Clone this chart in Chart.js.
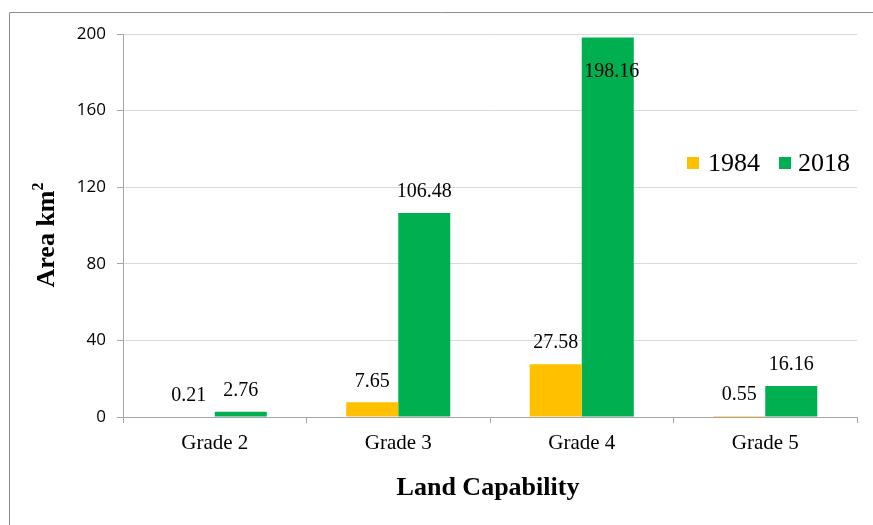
<!DOCTYPE html>
<html>
<head>
<meta charset="utf-8">
<script src="https://cdn.jsdelivr.net/npm/chart.js@4.4.1/dist/chart.umd.min.js"></script>
<style>
  html, body { margin: 0; padding: 0; background: #ffffff; }
  #wrap { position: relative; width: 873px; height: 525px; }
</style>
</head>
<body>
<div id="wrap"><canvas id="chart" width="873" height="525"></canvas></div>
<script>
// Land capability area by grade (km²)
const categories = ['Grade 2', 'Grade 3', 'Grade 4', 'Grade 5'];
const seriesNames = ['1984', '2018'];
const values1984 = [0.21, 7.65, 27.58, 0.55];
const values2018 = [2.76, 106.48, 198.16, 16.16];
const yTicks = [0, 40, 80, 120, 160, 200];

const colors = ['#FFC000', '#00B050'];
const serif = '"Liberation Serif", "Times New Roman", serif';
const sans = '"Open Sans", "Liberation Sans", sans-serif';

// Outer frame, axis titles, value labels and legend
const decorations = {
  id: 'decorations',
  beforeDraw(chart) {
    const ctx = chart.ctx;
    ctx.save();
    ctx.strokeStyle = '#8C8C8C';
    ctx.lineWidth = 1;
    ctx.beginPath();
    ctx.moveTo(9.5, 525);
    ctx.lineTo(9.5, 12.5);
    ctx.lineTo(873, 12.5);
    ctx.stroke();
    ctx.restore();
  },
  afterDatasetsDraw(chart) {
    const ctx = chart.ctx;
    const area = chart.chartArea;
    ctx.save();
    ctx.fillStyle = '#000';
    ctx.textAlign = 'center';
    ctx.textBaseline = 'middle';
    ctx.font = '20px ' + serif;
    chart.data.datasets.forEach((ds, i) => {
      const meta = chart.getDatasetMeta(i);
      meta.data.forEach((bar, j) => {
        const label = ds.data[j].toFixed(2);
        let y = bar.y - 21;
        let x = bar.x;
        if (y < area.top + 10) { y = bar.y + 34; x = bar.x + 4; }
        ctx.fillText(label, x, y);
      });
    });

    // Axis titles
    ctx.font = 'bold 26px ' + serif;
    ctx.textAlign = 'center';
    ctx.fillText('Land Capability', 488, 488);

    ctx.save();
    ctx.translate(47, 235);
    ctx.rotate(-Math.PI / 2);
    const main = 'Area km';
    const mainW = ctx.measureText(main).width;
    ctx.font = 'bold 16px ' + serif;
    const supW = ctx.measureText('2').width;
    const total = mainW + supW;
    ctx.font = 'bold 26px ' + serif;
    ctx.textAlign = 'left';
    ctx.fillText(main, -total / 2, 0);
    ctx.font = 'bold 16px ' + serif;
    ctx.fillText('2', -total / 2 + mainW, -8);
    ctx.restore();

    // Legend
    const legendPos = [[687, 708], [779, 798]];
    ctx.font = '26px ' + serif;
    ctx.textAlign = 'left';
    chart.data.datasets.forEach((ds, i) => {
      ctx.fillStyle = ds.backgroundColor;
      ctx.fillRect(legendPos[i][0], 157, 12, 12);
      ctx.fillStyle = '#000';
      ctx.fillText(ds.label, legendPos[i][1], 164);
    });
    ctx.restore();
  }
};

new Chart(document.getElementById('chart'), {
  type: 'bar',
  data: {
    labels: categories,
    datasets: [
      { label: seriesNames[0], data: values1984, backgroundColor: colors[0] },
      { label: seriesNames[1], data: values2018, backgroundColor: colors[1] }
    ]
  },
  options: {
    responsive: false,
    animation: false,
    devicePixelRatio: 1,
    layout: { padding: { left: 0, top: 34, right: 16, bottom: 0 } },
    categoryPercentage: 0.567,
    barPercentage: 1,
    plugins: {
      legend: { display: false },
      tooltip: { enabled: false }
    },
    scales: {
      x: {
        grid: {
          offset: true,
          drawOnChartArea: false,
          drawTicks: true,
          tickLength: 6,
          tickColor: '#A6A6A6'
        },
        border: { color: '#A6A6A6', width: 1 },
        ticks: {
          color: '#000',
          font: { family: serif, size: 21 },
          padding: 8
        },
        afterFit(scale) { scale.height = 108; }
      },
      y: {
        min: 0,
        max: 200,
        afterBuildTicks(scale) { scale.ticks = yTicks.map(v => ({ value: v })); },
        grid: {
          color: '#D9D9D9',
          lineWidth: 1,
          tickLength: 6,
          tickColor: '#A6A6A6'
        },
        border: { color: '#A6A6A6', width: 1 },
        ticks: {
          color: '#000',
          font: { family: sans, size: 17 },
          padding: 11
        },
        afterFit(scale) { scale.width = 123; }
      }
    }
  },
  plugins: [decorations]
});
</script>
</body>
</html>
